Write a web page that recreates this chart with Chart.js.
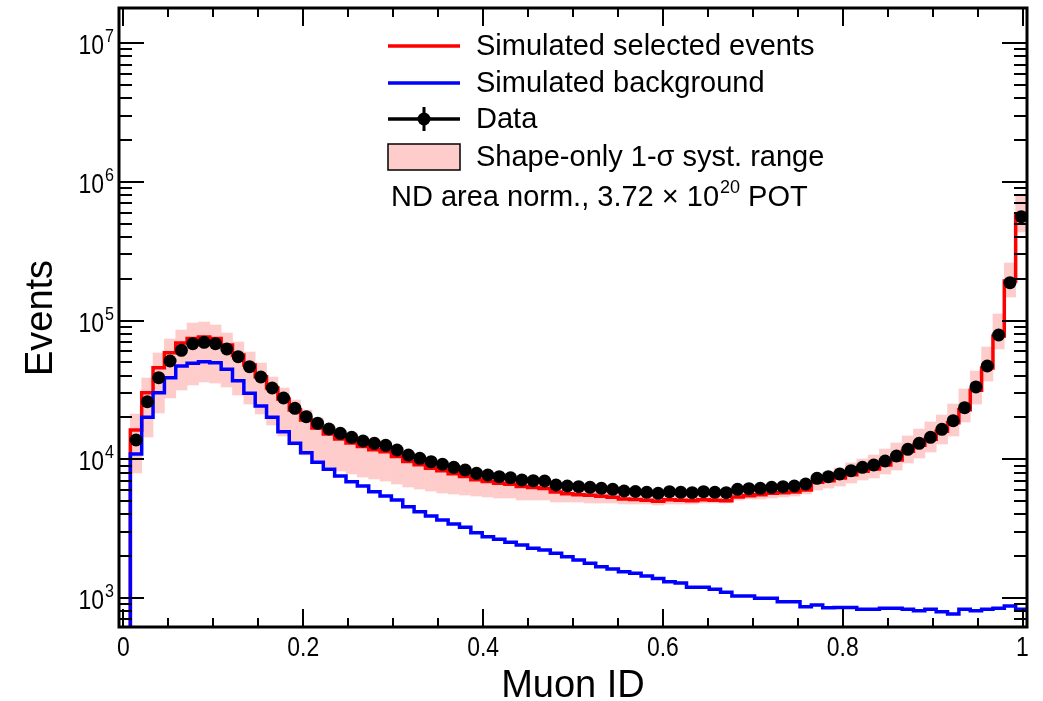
<!DOCTYPE html>
<html><head><meta charset="utf-8">
<script src="https://cdn.jsdelivr.net/npm/chart.js@4.4.1/dist/chart.umd.min.js"></script>
<style>html,body{margin:0;padding:0;background:#fff;}canvas{display:block;}</style>
</head><body>
<canvas id="c" width="1043" height="701"></canvas>
<script>
// ---- histogram definition (80 bins on Muon ID) ----
const nBins = 80, xLow = -0.005, xHigh = 1.005;

// ---- data ----
const dataEvents = [null, 13760, 25980, 38700, 51080, 60990, 68050, 69650, 68050, 62320,
  54850, 46450, 39150, 32620, 27630, 23300, 20260, 18160, 16520, 15380,
  14400, 13540, 13030, 12610, 11660, 10730, 10160, 9600, 9200, 8750,
  8365, 7920, 7700, 7485, 7360, 7090, 7005, 6970, 6520, 6415,
  6340, 6280, 6175, 6075, 5905, 5855, 5780, 5680, 5835, 5780,
  5740, 5835, 5780, 5740, 6075, 6135, 6175, 6280, 6340, 6415,
  6630, 7290, 7485, 7830, 8270, 8750, 9090, 9715, 10550, 11790,
  13030, 14400, 16440, 18960, 23530, 33220, 46990, 78640, 187300, 560000];

const simSelected = [100, 16250, 30170, 45680, 58610, 68830, 74200, 76050, 74200, 66580,
  56420, 47780, 39360, 32620, 27180, 22650, 19180, 16800, 15210, 13990,
  13100, 12360, 11700, 11320, 10460, 9634, 9120, 8620, 8255, 7855,
  7512, 7110, 6911, 6720, 6610, 6360, 6250, 6150, 5800, 5650,
  5551, 5497, 5406, 5317, 5168, 5125, 5057, 4974, 5108, 5057,
  5024, 5108, 5057, 5024, 5350, 5450, 5550, 5683, 5740, 5808,
  6004, 6822, 7005, 7326, 7737, 8185, 8503, 9090, 9877, 11410,
  12610, 13920, 15900, 18340, 22760, 31400, 45460, 77330, 192600, 585600];

const simBackground = [100, 10910, 20060, 30170, 38700, 46990, 49140, 50470, 49630, 44490,
  36830, 29870, 24200, 20060, 15800, 13030, 11150, 9506, 8464, 7573,
  6889, 6415, 5835, 5435, 5085, 4550, 4188, 3900, 3650, 3415,
  3232, 2955, 2766, 2649, 2520, 2410, 2282, 2218, 2100, 1985,
  1879, 1779, 1681, 1618, 1547, 1507, 1441, 1382, 1311, 1283,
  1194, 1194, 1155, 1099, 1034, 1034, 995, 995, 940, 940,
  865, 890, 851, 854, 854, 829, 829, 843, 843, 829,
  810, 829, 797, 767, 829, 810, 829, 843, 876, 829];

const systLow = [null, 7960, 14470, 21550, 27630, 31560, 34290, 36050, 35450, 33170,
  29050, 25010, 21190, 17660, 14710, 12670, 10730, 9555, 8794, 8230,
  7830, 7449, 7206, 6971, 6632, 6310, 6104, 5904, 5711, 5617,
  5524, 5433, 5344, 5256, 5256, 5085, 5085, 5085, 4919, 4919,
  4919, 4838, 4838, 4838, 4759, 4759, 4759, 4681, 4759, 4759,
  4759, 4838, 4838, 4838, 5085, 5170, 5170, 5256, 5344, 5433,
  5617, 6002, 6205, 6415, 6743, 7088, 7326, 7830, 8367, 9398,
  10210, 11280, 12880, 14710, 18560, 25010, 36650, 62330, 147700, 434300];

const systHigh = [null, 21190, 38510, 58310, 73560, 85420, 95930, 97540, 92800, 81260,
  69990, 59290, 49390, 39150, 32620, 26730, 22640, 19830, 17660, 16250,
  15460, 14470, 13760, 13310, 12250, 11280, 10730, 10040, 9555, 9090,
  8648, 8230, 7960, 7700, 7574, 7326, 7206, 7206, 6743, 6632,
  6522, 6415, 6310, 6205, 6104, 6002, 6002, 5904, 6002, 6002,
  6002, 6002, 6002, 6002, 6310, 6415, 6415, 6522, 6632, 6743,
  7088, 7700, 8093, 8648, 9398, 10040, 10730, 11850, 13100, 14710,
  16520, 18560, 20840, 25010, 32090, 43260, 64440, 111400, 259700, 802700];

// ---- axis ticks & texts ----
const xTickValues = [0, 0.2, 0.4, 0.6, 0.8, 1];
const xTickLabels = ['0', '0.2', '0.4', '0.6', '0.8', '1'];
const yTickExponents = [3, 4, 5, 6, 7];
const xTitle = 'Muon ID';
const yTitle = 'Events';
const legendLabels = ['Simulated selected events', 'Simulated background', 'Data', 'Shape-only 1-\u03C3 syst. range'];
const normText = ['ND area norm., 3.72 \u00D7 10', '20', ' POT'];

// ---- derived tables for the library ----
const binW = (xHigh - xLow) / nBins;
const edges = Array.from({length: nBins + 1}, (_, i) => xLow + i * binW);
const centers = edges.slice(0, -1).map(e => e + binW / 2);
function stepPoints(vals) {
  const pts = vals.map((v, i) => ({x: edges[i], y: v}));
  pts.push({x: edges[nBins], y: vals[nBins - 1]});
  return pts;
}
const dataPoints = [];
dataEvents.forEach((v, i) => { if (v !== null) dataPoints.push({x: centers[i], y: v}); });
const bandBars = [];
systLow.forEach((v, i) => { if (v !== null) bandBars.push({x: centers[i], y: [v, systHigh[i]]}); });

const FONT = '"Liberation Sans", Arial, Helvetica, sans-serif';

function scaledText(ctx, text, x, y, sx) {
  ctx.save();
  ctx.translate(x, y);
  ctx.scale(sx, 1);
  ctx.fillText(text, 0, 0);
  ctx.restore();
}

const rootStyle = {
  id: 'rootStyle',
  afterDatasetsDraw(chart) {
    const {ctx, chartArea: a, scales: {x, y}} = chart;
    ctx.save();
    const line = (x1, y1, x2, y2) => { ctx.beginPath(); ctx.moveTo(x1, y1); ctx.lineTo(x2, y2); ctx.stroke(); };
    ctx.strokeStyle = '#000';
    ctx.lineWidth = 2;
    // x ticks (major 0.2, minor 0.05) bottom and top, pointing inward
    for (let k = 0; k <= 20; k++) {
      const v = k * 0.05;
      const px = Math.round(x.getPixelForValue(v));
      const L = (k % 4 === 0) ? 18 : 9;
      line(px, a.bottom, px, a.bottom - L);
      line(px, a.top, px, a.top + L);
    }
    // y ticks (log) left and right
    for (let e = 2; e <= 7; e++) {
      for (let m = 1; m <= 9; m++) {
        const v = m * Math.pow(10, e);
        if (v < y.min || v > y.max) continue;
        const py = Math.round(y.getPixelForValue(v));
        const L = m === 1 ? 25 : 13;
        line(a.left, py, a.left + L, py);
        line(a.right, py, a.right - L, py);
      }
    }
    // frame
    ctx.lineWidth = 3;
    ctx.strokeRect(a.left, a.top, a.right - a.left, a.bottom - a.top);

    ctx.fillStyle = '#000';
    ctx.textBaseline = 'alphabetic';
    // x tick labels (narrow, tall digits)
    const sxT = 0.85;
    ctx.font = '27px ' + FONT;
    ctx.textAlign = 'left';
    xTickValues.forEach((v, i) => {
      const w = ctx.measureText(xTickLabels[i]).width * sxT;
      scaledText(ctx, xTickLabels[i], x.getPixelForValue(v) - w / 2, a.bottom + 29, sxT);
    });
    // y tick labels 10^n
    yTickExponents.forEach(n => {
      const py = y.getPixelForValue(Math.pow(10, n));
      ctx.font = '19px ' + FONT;
      const ew = ctx.measureText(String(n)).width * sxT;
      scaledText(ctx, String(n), 114 - ew, py - 1, sxT);
      ctx.font = '27px ' + FONT;
      const tw = ctx.measureText('10').width * sxT;
      scaledText(ctx, '10', 114 - ew - 1 - tw, py + 11, sxT);
    });
    // axis titles
    ctx.font = '38px ' + FONT;
    ctx.textAlign = 'center';
    ctx.fillText(xTitle, (a.left + a.right) / 2, 697);
    ctx.save();
    ctx.translate(52, 318);
    ctx.rotate(-Math.PI / 2);
    ctx.fillText(yTitle, 0, 0);
    ctx.restore();

    // legend
    const lx1 = 388, lx2 = 460, tx = 476;
    const rows = [46, 83, 119, 157];
    ctx.lineWidth = 3.5;
    ctx.strokeStyle = '#ff0000'; line(lx1, rows[0], lx2, rows[0]);
    ctx.strokeStyle = '#0000ff'; line(lx1, rows[1], lx2, rows[1]);
    ctx.strokeStyle = '#000000'; line(lx1, rows[2], lx2, rows[2]);
    ctx.lineWidth = 3;
    line((lx1 + lx2) / 2, rows[2] - 12, (lx1 + lx2) / 2, rows[2] + 12);
    ctx.beginPath(); ctx.arc((lx1 + lx2) / 2, rows[2], 6.5, 0, Math.PI * 2); ctx.fill();
    ctx.fillStyle = '#ffcccc';
    ctx.fillRect(lx1, rows[3] - 13, lx2 - lx1, 26);
    ctx.lineWidth = 1.5; ctx.strokeStyle = '#000';
    ctx.strokeRect(lx1, rows[3] - 13, lx2 - lx1, 26);
    ctx.fillStyle = '#000';
    ctx.font = '29px ' + FONT;
    ctx.textAlign = 'left';
    ctx.textBaseline = 'middle';
    legendLabels.forEach((t, i) => ctx.fillText(t, tx, rows[i] + 1));
    // normalisation text with superscript
    ctx.textBaseline = 'alphabetic';
    let nx = 391;
    ctx.font = '29px ' + FONT;
    ctx.fillText(normText[0], nx, 206); nx += ctx.measureText(normText[0]).width;
    ctx.font = '18px ' + FONT;
    ctx.fillText(normText[1], nx + 1, 193); nx += ctx.measureText(normText[1]).width + 1;
    ctx.font = '29px ' + FONT;
    ctx.fillText(normText[2], nx, 206);
    ctx.restore();
  }
};

new Chart(document.getElementById('c'), {
  type: 'line',
  data: {
    datasets: [
      {type: 'scatter', label: legendLabels[2], data: dataPoints, order: 1,
       pointRadius: 6.5, pointBackgroundColor: '#000', pointBorderColor: '#000', pointBorderWidth: 0, showLine: false},
      {type: 'line', label: legendLabels[1], data: stepPoints(simBackground), order: 2, stepped: 'before',
       borderColor: '#0000ff', borderWidth: 3.5, pointRadius: 0, fill: false, borderJoinStyle: 'miter'},
      {type: 'line', label: legendLabels[0], data: stepPoints(simSelected), order: 3, stepped: 'before',
       borderColor: '#ff0000', borderWidth: 3.5, pointRadius: 0, fill: false, borderJoinStyle: 'miter'},
      {type: 'bar', label: legendLabels[3], data: bandBars, order: 4,
       backgroundColor: '#ffcccc', borderWidth: 0, barPercentage: 1, categoryPercentage: 1, grouped: false}
    ]
  },
  options: {
    responsive: false,
    animation: false,
    events: [],
    devicePixelRatio: 1,
    layout: {padding: {left: 119, top: 8, right: 16, bottom: 74}},
    plugins: {legend: {display: false}, tooltip: {enabled: false}},
    scales: {
      x: {type: 'linear', min: xLow, max: xHigh, bounds: 'data', offset: false, display: false,
          afterBuildTicks: s => { s.ticks = xTickValues.map(v => ({value: v})); }},
      y: {type: 'logarithmic', min: 618, max: 1.788e7, bounds: 'data', display: false}
    }
  },
  plugins: [rootStyle]
});
</script>
</body></html>
